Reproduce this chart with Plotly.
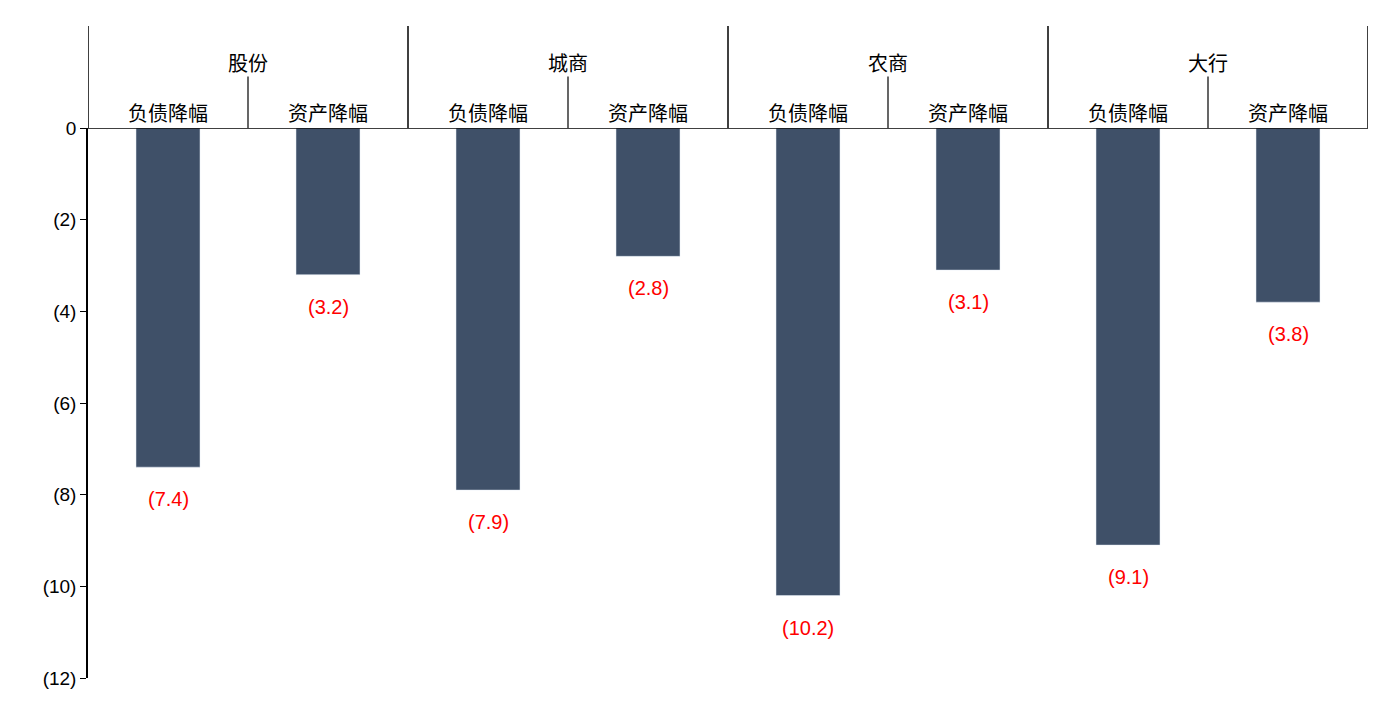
import plotly.graph_objects as go

groups = ["股份", "城商", "农商", "大行"]
subs = ["负债降幅", "资产降幅"]
values = [-7.4, -3.2, -7.9, -2.8, -10.2, -3.1, -9.1, -3.8]
tick_vals = [0, -2, -4, -6, -8, -10, -12]
tick_text = ["0", "(2)", "(4)", "(6)", "(8)", "(10)", "(12)"]

x = list(range(len(values)))
labels = [f"({abs(v):.1f})" for v in values]

fig = go.Figure(go.Bar(x=x, y=values, width=0.4, marker_color="#3f5068"))

H = 556.0
def py(px):  # pixel y (window) -> paper
    return (684 - px) / H

shapes = []
for g in range(5):
    shapes.append(dict(type="line", xref="x", yref="paper", x0=g*2-0.5, x1=g*2-0.5,
                       y0=py(128), y1=py(25), line=dict(color="black", width=1.5)))
for g in range(4):
    shapes.append(dict(type="line", xref="x", yref="paper", x0=g*2+0.5, x1=g*2+0.5,
                       y0=py(128), y1=py(76), line=dict(color="black", width=1.2)))
shapes.append(dict(type="line", xref="paper", yref="y", x0=0, x1=1, y0=0, y1=0,
                   line=dict(color="black", width=1.5)))

ann = []
for g, name in enumerate(groups):
    ann.append(dict(x=g*2+0.5, y=py(45), xref="x", yref="paper", text=name, showarrow=False,
                    font=dict(size=20, family="Noto Sans CJK SC", color="black")))
for i in x:
    ann.append(dict(x=i, y=py(96), xref="x", yref="paper", text=subs[i % 2], showarrow=False,
                    font=dict(size=20, family="Noto Sans CJK SC", color="black")))
    ann.append(dict(x=i, y=values[i], xref="x", yref="y", text=labels[i], showarrow=False,
                    yshift=-32, font=dict(size=20, family="Arial", color="#ff0000")))

fig.update_layout(
    width=1372, height=693, margin=dict(l=80, r=12, t=120, b=17),
    plot_bgcolor="white", paper_bgcolor="white", showlegend=False,
    shapes=shapes, annotations=ann,
    xaxis=dict(range=[-0.5, 7.5], showticklabels=False, showgrid=False, zeroline=False),
    yaxis=dict(range=[-12, 0], tickvals=tick_vals, ticktext=tick_text, showgrid=False,
               zeroline=False, showline=True, linecolor="black", linewidth=1.5,
               ticks="outside", ticklen=6, tickcolor="black",
               tickfont=dict(size=19, family="Arial", color="black")),
)
fig.write_html("out.html")
